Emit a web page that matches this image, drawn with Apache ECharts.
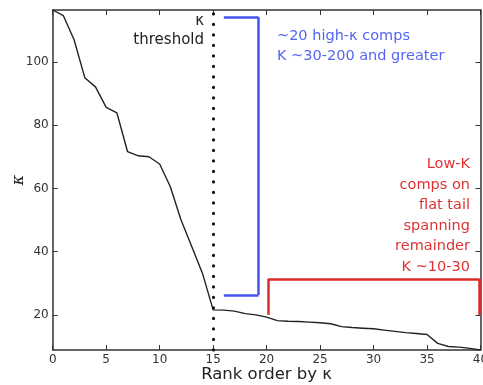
<!DOCTYPE html>
<html><head><meta charset="utf-8">
<script src="https://cdn.jsdelivr.net/npm/echarts@6/dist/echarts.min.js"></script>
<style>html,body{margin:0;padding:0;background:#fff}#c{width:483px;height:385px}</style>
</head><body><div id="c"></div>
<script>
const rank = [0,1,2,3,4,5,6,7,8,9,10,11,12,13,14,15,16,17,18,19,20,21,22,23,24,25,26,27,28,29,30,31,32,33,34,35,36,37,38,39,40];
const kappa = [116.4,114.6,107,95,92.1,85.6,83.9,71.6,70.3,70.0,67.7,60.5,50,41.6,33.2,21.6,21.5,21.2,20.4,20.0,19.3,18.2,18.0,17.9,17.7,17.5,17.2,16.3,16.0,15.8,15.6,15.2,14.8,14.4,14.1,13.8,11.0,10.0,9.8,9.4,8.9];
const yTicks = [20,40,60,80,100];
const threshold = 15;
// bracket annotations in data coords
const blueBracket = [[16.0,114.1],[19.25,114.1],[19.25,26.3],[16.0,26.3]];
const redBracket = [[20.15,20.0],[20.15,31.4],[39.9,31.4],[39.9,20.0]];
const blueText = ['~20 high-κ comps','K ~30-200 and greater'];
const redText = ['Low-K','comps on','flat tail','spanning','remainder','K ~10-30'];

const chart = echarts.init(document.getElementById('c'));
const F = 'DejaVu Sans';
function segs(pts){const r=[];for(let i=0;i<pts.length-1;i++){r.push([{coord:pts[i]},{coord:pts[i+1]}]);}return r;}
const axLine = {show:true,onZero:false,lineStyle:{color:'#333',width:1.5}};
const tick = {show:true,inside:true,length:5,lineStyle:{color:'#333',width:1}};
chart.setOption({
  animation:false,
  grid:{left:52.7,right:2.5,top:10,bottom:35,outerBoundsMode:'none',containLabel:false},
  xAxis:[
    {type:'value',min:0,max:40,interval:5,position:'bottom',axisLine:axLine,axisTick:tick,splitLine:{show:false},
     axisLabel:{fontFamily:F,fontSize:12,color:'#333',margin:4},
     name:'Rank order by κ',nameLocation:'middle',nameGap:16,nameMoveOverlap:false,nameTextStyle:{fontFamily:F,fontSize:16.5,color:'#222',verticalAlign:'top'}},
    {type:'value',min:0,max:40,interval:5,position:'top',axisLine:axLine,axisTick:tick,splitLine:{show:false},axisLabel:{show:false}}
  ],
  yAxis:[
    {type:'value',min:8.9,max:116.4,position:'left',axisLine:axLine,splitLine:{show:false},
     axisTick:Object.assign({customValues:yTicks},tick),
     axisLabel:{customValues:yTicks,fontFamily:F,fontSize:12,color:'#333',margin:4},
     name:'κ',nameLocation:'middle',nameGap:26,nameMoveOverlap:false,nameRotate:90,nameTextStyle:{fontFamily:'DejaVu Serif',fontStyle:'italic',fontSize:16,color:'#222'}},
    {type:'value',min:8.9,max:116.4,position:'right',axisLine:axLine,splitLine:{show:false},
     axisTick:Object.assign({customValues:yTicks},tick),axisLabel:{show:false}}
  ],
  series:[
    {type:'line',data:rank.map((r,i)=>[r,kappa[i]]),showSymbol:false,lineStyle:{color:'#222',width:1.4},z:3,
     markLine:{silent:true,symbol:'none',label:{show:false},animation:false,
       lineStyle:{color:'#111',width:3.2,type:[0.1,10.4],cap:'round'},
       data:[[{coord:[threshold,8.9]},{coord:[threshold,116.4]}]]}},
    {type:'line',data:[],markLine:{silent:true,symbol:'none',label:{show:false},animation:false,
       lineStyle:{color:'#4455ee',width:2.5,type:'solid'},data:segs(blueBracket)}},
    {type:'line',data:[],markLine:{silent:true,symbol:'none',label:{show:false},animation:false,
       lineStyle:{color:'#dd2a2a',width:2.5,type:'solid'},data:segs(redBracket)}}
  ],
  graphic:[
    {type:'text',right:483-204,top:14,style:{text:'κ',font:'15px "DejaVu Sans"',fill:'#222',textAlign:'right'}},
    {type:'text',right:483-204,top:33,style:{text:'threshold',font:'15px "DejaVu Sans"',fill:'#222'}},
    {type:'text',left:277,top:26,style:{text:blueText.join('\n'),font:'14.5px "DejaVu Sans"',fill:'#5566f0',lineHeight:20}},
    {type:'text',x:470,y:154,style:{text:redText.join('\n'),font:'14.5px "DejaVu Sans"',fill:'#dd3333',lineHeight:20.5,textAlign:'right',align:'right'}}
  ]
});
</script></body></html>
